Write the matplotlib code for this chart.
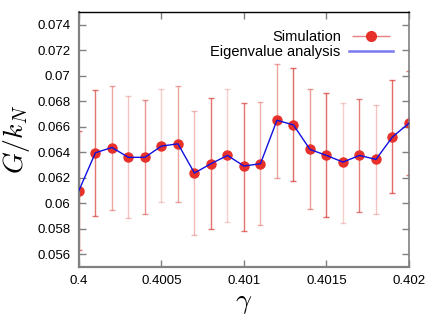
import numpy as np
import matplotlib
matplotlib.use("Agg")
import matplotlib.pyplot as plt
from matplotlib.legend_handler import HandlerErrorbar

# data
gamma = [0.4000, 0.4001, 0.4002, 0.4003, 0.4004, 0.4005, 0.4006, 0.4007, 0.4008, 0.4009, 0.4010,
         0.4011, 0.4012, 0.4013, 0.4014, 0.4015, 0.4016, 0.4017, 0.4018, 0.4019, 0.4020]
sim = [0.0610, 0.06396, 0.06437, 0.0636, 0.0636, 0.06448, 0.06466, 0.06237, 0.0631, 0.06375, 0.06292,
       0.0631, 0.0665, 0.06614, 0.06422, 0.06375, 0.06323, 0.06375, 0.06344, 0.0652, 0.06627]
err_hi = [0.0657, 0.06886, 0.06922, 0.06844, 0.06809, 0.06894, 0.06922, 0.06723, 0.06824, 0.06894, 0.06785,
          0.06793, 0.07089, 0.07058, 0.06894, 0.06863, 0.06785, 0.06816, 0.0677, 0.06964, 0.07036]
err_lo = [0.05636, 0.05903, 0.05945, 0.05882, 0.05913, 0.0601, 0.0601, 0.0575, 0.05797, 0.05854, 0.05784,
          0.05828, 0.06202, 0.06171, 0.05953, 0.0589, 0.05846, 0.05932, 0.05913, 0.06077, 0.0622]
eig = [0.0610, 0.06396, 0.06437, 0.0636, 0.0636, 0.06448, 0.06466, 0.06237, 0.0631, 0.06375, 0.06292,
       0.0631, 0.0665, 0.06614, 0.06422, 0.06375, 0.06323, 0.06375, 0.06344, 0.0652, 0.06627]

# per-bar shading of the error bars
bar_alpha = [0.7, 0.7, 0.45, 0.3, 0.55, 0.25, 0.45, 0.35, 0.7, 0.25, 0.7,
             0.4, 0.45, 0.75, 0.5, 0.75, 0.25, 0.65, 0.3, 0.75, 0.7]

red = "#e8302a"
plt.rcParams["font.family"] = ["Liberation Sans", "DejaVu Sans"]
plt.rcParams["mathtext.fontset"] = "cm"

fig = plt.figure(figsize=(4.36, 3.27), dpi=100)
ax = fig.add_axes([0.181, 0.183, 0.757, 0.781])

for x, y, lo, hi, a in zip(gamma, sim, err_lo, err_hi, bar_alpha):
    ax.errorbar([x], [y], yerr=[[y - lo], [hi - y]], fmt="none", ecolor="#d83a32",
                alpha=a, elinewidth=1.0, capsize=2.5, capthick=1.0, zorder=1)

ax.plot(gamma, sim, "o", color=red, markersize=6.5, zorder=2)
ax.plot(gamma, eig, "-", color="#1010e0", lw=1.0, zorder=3)

# legend proxies
h_sim = ax.errorbar([], [], xerr=[], fmt="o", color=red, ecolor="#e88080",
                    markersize=7, elinewidth=1.0, capsize=3)
h_eig, = ax.plot([], [], "-", color="#7878f0", lw=1.8)
leg = ax.legend([h_sim, h_eig], ["Simulation", "Eigenvalue analysis"], loc="upper right",
                frameon=False, markerfirst=False, fontsize=10.5, handlelength=3.0,
                handletextpad=0.6, borderaxespad=0.0, labelspacing=0.05,
                bbox_to_anchor=(0.97, 0.95),
                handler_map={type(h_sim): HandlerErrorbar(xerr_size=1.3)})

ax.set_xlim(0.4, 0.402)
ax.set_ylim(0.055, 0.075)
ax.set_xticks([0.4, 0.4005, 0.401, 0.4015, 0.402])
ax.set_xticklabels(["0.4", "0.4005", "0.401", "0.4015", "0.402"])
ax.set_yticks([0.056, 0.058, 0.06, 0.062, 0.064, 0.066, 0.068, 0.07, 0.072, 0.074])
ax.set_yticklabels(["0.056", "0.058", "0.06", "0.062", "0.064", "0.066", "0.068", "0.07", "0.072", "0.074"])
ax.tick_params(direction="in", top=True, right=True, length=5, width=1, colors="#808080",
               labelcolor="black", labelsize=9.5, pad=6)

for s in ["left", "bottom", "right"]:
    ax.spines[s].set_color("#808080")
ax.spines["left"].set_linewidth(1.6)
ax.spines["bottom"].set_linewidth(1.6)
ax.spines["right"].set_linewidth(1.2)
ax.spines["top"].set_color("black")
ax.spines["top"].set_linewidth(1.0)

ax.set_xlabel(r"$\gamma$", fontsize=20, labelpad=2)
ax.set_ylabel(r"$G/k_N$", fontsize=20, labelpad=4)

fig.savefig("out.png", dpi=100)
